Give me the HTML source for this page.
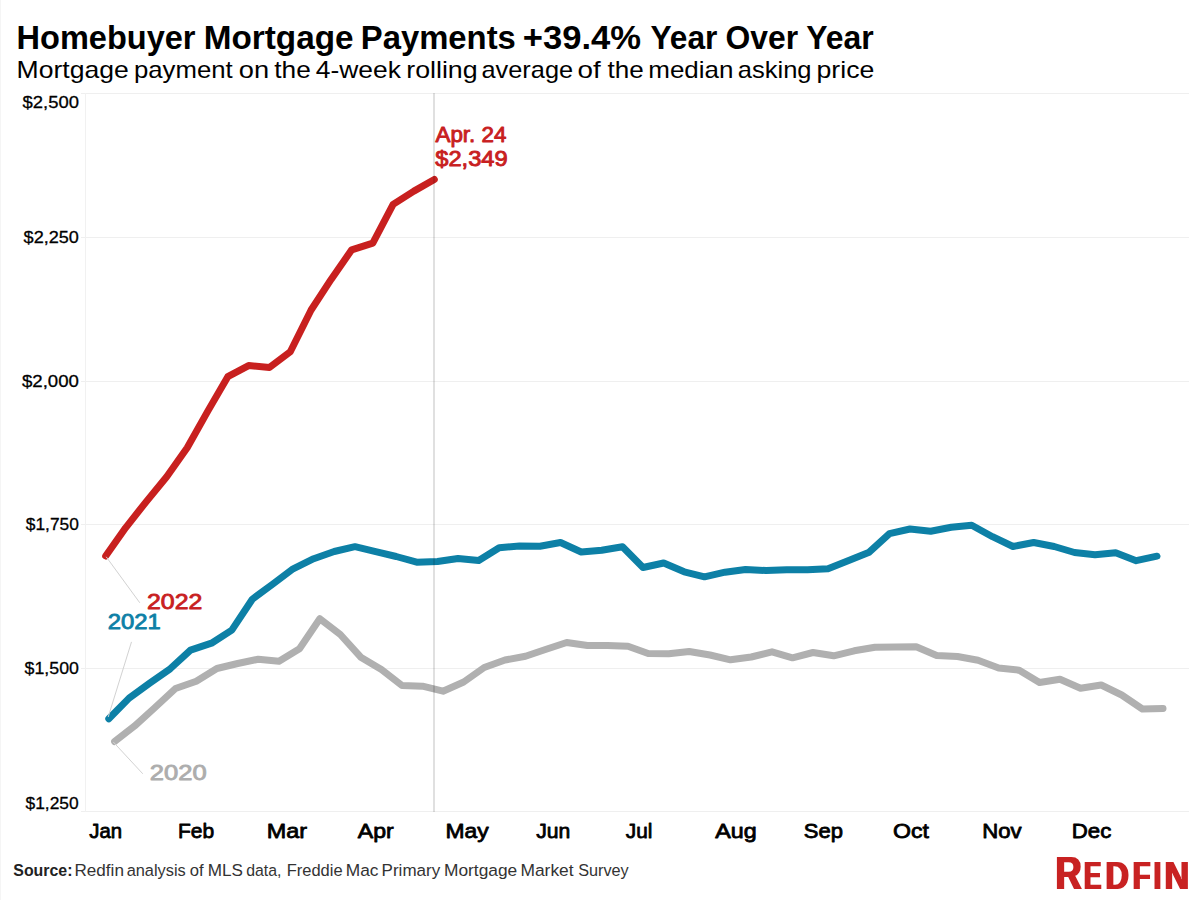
<!DOCTYPE html>
<html lang="en">
<head>
<meta charset="utf-8">
<title>Homebuyer Mortgage Payments</title>
<style>
html,body{margin:0;padding:0;background:#fff;}
body{width:1200px;height:900px;overflow:hidden;position:relative;font-family:"Liberation Sans",sans-serif;}
svg{position:absolute;left:0;top:0;display:block;}
text{font-family:"Liberation Sans",sans-serif;}
.title{font-size:32.5px;font-weight:700;fill:#000;}
.sub{font-size:24px;font-weight:400;fill:#000;}
.yl{font-size:16.7px;font-weight:400;fill:#000;stroke:#000;stroke-width:0.28px;}
.xl{font-size:21px;font-weight:400;fill:#000;stroke:#000;stroke-width:0.8px;stroke-linejoin:round;}
.src{font-size:16.3px;fill:#333;}
.srcb{font-size:16.3px;fill:#222;font-weight:700;}
.ann{font-size:21.6px;font-weight:400;fill:#c8201f;stroke:#c8201f;stroke-width:0.9px;stroke-linejoin:round;}
.yr{font-size:21.3px;font-weight:400;stroke-width:0.85px;stroke-linejoin:round;}
.logo{font-weight:700;fill:#c82021;}
</style>
</head>
<body>
<svg width="1200" height="900" viewBox="0 0 1200 900">
<defs><filter id="fx" x="-20%" y="-10%" width="140%" height="120%"><feMorphology operator="dilate" radius="1 0"/></filter></defs>
<rect x="0" y="0" width="1200" height="900" fill="#ffffff"/>
<rect x="0" y="0" width="1" height="900" fill="#f5f5f5"/>

<g fill="#efefef" shape-rendering="crispEdges">
<rect x="81" y="93" width="1108" height="1"/>
<rect x="81" y="237" width="1108" height="1"/>
<rect x="81" y="381" width="1108" height="1"/>
<rect x="81" y="524" width="1108" height="1"/>
<rect x="81" y="668" width="1108" height="1"/>
<rect x="81" y="811" width="1108" height="1"/>
<rect x="85" y="93" width="1" height="719" fill="#f1f1f1"/>
</g>
<polyline points="114.6,741.6 134.5,726.1 155.0,707.5 175.5,688.5 196.3,681.3 216.9,668.5 237.7,663.5 258.2,659.2 279.0,661.3 299.5,648.8 319.8,618.7 340.3,634.5 361.2,657.6 381.4,669.6 402.0,685.5 422.5,686.2 443.0,691.2 463.7,682.0 484.2,667.5 505.0,660.0 525.5,656.2 546.2,649.2 566.7,642.5 587.5,645.5 607.5,645.5 628.0,646.2 648.2,653.5 668.7,653.8 689.2,651.5 710.0,655.0 730.5,659.8 751.2,657.0 772.0,651.8 792.5,657.8 813.0,652.5 833.7,655.8 854.2,650.8 875.0,647.2 895.5,647.0 916.2,646.7 936.7,655.5 957.5,656.5 978.0,660.2 998.7,668.0 1019.2,670.2 1039.5,682.5 1060.0,679.2 1080.5,688.2 1101.2,685.0 1121.7,695.0 1142.4,709.0 1163.0,708.4" fill="none" stroke="#b0b0b0" stroke-width="7" stroke-linejoin="round" stroke-linecap="round"/>
<polyline points="108.8,718.7 129.1,698.1 149.7,683.2 170.2,668.8 190.5,650.1 211.5,643.2 231.8,630.1 252.3,599.2 272.9,584.0 293.1,568.8 313.7,558.7 334.2,551.5 355.0,546.7 375.7,551.7 396.2,556.5 416.7,562.2 437.5,561.5 458.0,558.5 478.7,560.5 499.2,547.7 519.5,546.0 540.0,546.2 560.5,542.5 581.2,552.0 601.7,550.2 622.5,546.7 643.0,567.5 663.7,563.0 684.2,571.8 704.5,576.8 725.0,572.2 745.5,569.5 766.2,570.5 786.7,569.8 807.5,569.8 828.0,568.8 848.7,560.5 869.2,552.2 889.5,533.7 910.0,529.0 930.7,531.2 951.2,527.2 971.7,525.2 992.5,536.7 1013.0,546.5 1033.7,542.5 1054.2,546.5 1074.5,552.5 1095.0,554.7 1115.7,552.7 1136.2,560.7 1157.0,556.2" fill="none" stroke="#0d80a6" stroke-width="7" stroke-linejoin="round" stroke-linecap="round"/>
<polyline points="105.7,556.0 125.6,527.8 146.1,501.8 166.7,476.7 187.2,447.8 207.8,411.1 227.8,376.7 248.6,365.6 269.4,367.5 290.3,351.7 311.1,310.0 331.1,279.4 351.7,249.8 372.8,243.1 393.1,204.4 413.9,191.1 434.3,179.5" fill="none" stroke="#c8201f" stroke-width="7" stroke-linejoin="round" stroke-linecap="round"/>
<rect x="433" y="93" width="2" height="719" fill="#000" fill-opacity="0.12" shape-rendering="crispEdges"/>
<g stroke="#d2d2d2" stroke-width="1" fill="none">
<line x1="106.2" y1="556.8" x2="139.8" y2="602.8"/>
<line x1="108.2" y1="717" x2="131.5" y2="641.9"/>
<line x1="113.3" y1="742" x2="142.8" y2="773.8"/>
</g>
<text class="title" y="48.7"><tspan x="16.5" textLength="179.05" lengthAdjust="spacingAndGlyphs">Homebuyer</tspan> <tspan x="203.75" textLength="149.83" lengthAdjust="spacingAndGlyphs">Mortgage</tspan> <tspan x="360.75" textLength="155.09" lengthAdjust="spacingAndGlyphs">Payments</tspan> <tspan x="522.75" textLength="118.27" lengthAdjust="spacingAndGlyphs">+39.4%</tspan> <tspan x="650.5" textLength="66.9" lengthAdjust="spacingAndGlyphs">Year</tspan> <tspan x="725.5" textLength="72.54" lengthAdjust="spacingAndGlyphs">Over</tspan> <tspan x="806.25" textLength="67.41" lengthAdjust="spacingAndGlyphs">Year</tspan></text>
<text class="sub" y="77.6"><tspan x="16.5" textLength="112.23" lengthAdjust="spacingAndGlyphs">Mortgage</tspan> <tspan x="134.0" textLength="98.68" lengthAdjust="spacingAndGlyphs">payment</tspan> <tspan x="238.75" textLength="30.28" lengthAdjust="spacingAndGlyphs">on</tspan> <tspan x="274.25" textLength="36.49" lengthAdjust="spacingAndGlyphs">the</tspan> <tspan x="315.75" textLength="85.18" lengthAdjust="spacingAndGlyphs">4-week</tspan> <tspan x="406.25" textLength="71.38" lengthAdjust="spacingAndGlyphs">rolling</tspan> <tspan x="481.5" textLength="91.59" lengthAdjust="spacingAndGlyphs">average</tspan> <tspan x="577.5" textLength="23.18" lengthAdjust="spacingAndGlyphs">of</tspan> <tspan x="607.5" textLength="36.23" lengthAdjust="spacingAndGlyphs">the</tspan> <tspan x="648.25" textLength="85.21" lengthAdjust="spacingAndGlyphs">median</tspan> <tspan x="737.75" textLength="73.79" lengthAdjust="spacingAndGlyphs">asking</tspan> <tspan x="816.5" textLength="57.8" lengthAdjust="spacingAndGlyphs">price</tspan></text>
<text class="src" y="875.8"><tspan class="srcb" x="13.3" textLength="59.13" lengthAdjust="spacingAndGlyphs">Source:</tspan> <tspan x="74.5" textLength="49.43" lengthAdjust="spacingAndGlyphs">Redfin</tspan> <tspan x="126.65" textLength="59.09" lengthAdjust="spacingAndGlyphs">analysis</tspan> <tspan x="189.85" textLength="13.87" lengthAdjust="spacingAndGlyphs">of</tspan> <tspan x="207.8" textLength="35.18" lengthAdjust="spacingAndGlyphs">MLS</tspan> <tspan x="246.25" textLength="35.18" lengthAdjust="spacingAndGlyphs">data,</tspan> <tspan x="286.65" textLength="55.93" lengthAdjust="spacingAndGlyphs">Freddie</tspan> <tspan x="345.8" textLength="32.72" lengthAdjust="spacingAndGlyphs">Mac</tspan> <tspan x="381.6" textLength="58.59" lengthAdjust="spacingAndGlyphs">Primary</tspan> <tspan x="444.0" textLength="73.22" lengthAdjust="spacingAndGlyphs">Mortgage</tspan> <tspan x="520.5" textLength="53.05" lengthAdjust="spacingAndGlyphs">Market</tspan> <tspan x="578.15" textLength="50.57" lengthAdjust="spacingAndGlyphs">Survey</tspan></text>
<g class="yaxis">
<text class="yl" x="22.5" y="107.7" textLength="56.44" lengthAdjust="spacingAndGlyphs">$2,500</text>
<text class="yl" x="23.6" y="242.7" textLength="55.33" lengthAdjust="spacingAndGlyphs">$2,250</text>
<text class="yl" x="21.9" y="386.8" textLength="57.05" lengthAdjust="spacingAndGlyphs">$2,000</text>
<text class="yl" x="25.8" y="529.8" textLength="53.11" lengthAdjust="spacingAndGlyphs">$1,750</text>
<text class="yl" x="24.6" y="673.8" textLength="54.32" lengthAdjust="spacingAndGlyphs">$1,500</text>
<text class="yl" x="25.5" y="808.75" textLength="53.2" lengthAdjust="spacingAndGlyphs">$1,250</text>
</g>
<g class="xaxis">
<text class="xl" x="89.25" y="838.4" textLength="32.83" lengthAdjust="spacingAndGlyphs">Jan</text>
<text class="xl" x="178.0" y="838.4" textLength="36.19" lengthAdjust="spacingAndGlyphs">Feb</text>
<text class="xl" x="266.7" y="838.4" textLength="40.36" lengthAdjust="spacingAndGlyphs">Mar</text>
<text class="xl" x="357.75" y="838.4" textLength="35.9" lengthAdjust="spacingAndGlyphs">Apr</text>
<text class="xl" x="445.5" y="838.4" textLength="43.26" lengthAdjust="spacingAndGlyphs">May</text>
<text class="xl" x="536.25" y="838.4" textLength="34.12" lengthAdjust="spacingAndGlyphs">Jun</text>
<text class="xl" x="625.75" y="838.4" textLength="26.59" lengthAdjust="spacingAndGlyphs">Jul</text>
<text class="xl" x="715.25" y="838.4" textLength="41.44" lengthAdjust="spacingAndGlyphs">Aug</text>
<text class="xl" x="803.75" y="838.4" textLength="39.16" lengthAdjust="spacingAndGlyphs">Sep</text>
<text class="xl" x="893.0" y="838.4" textLength="35.94" lengthAdjust="spacingAndGlyphs">Oct</text>
<text class="xl" x="982.3" y="838.4" textLength="39.36" lengthAdjust="spacingAndGlyphs">Nov</text>
<text class="xl" x="1071.8" y="838.4" textLength="39.59" lengthAdjust="spacingAndGlyphs">Dec</text>
</g>
<text class="ann"><tspan x="435.5" y="141.8" textLength="70.88" lengthAdjust="spacingAndGlyphs">Apr. 24</tspan> <tspan x="435.25" y="165.7" textLength="72.34" lengthAdjust="spacingAndGlyphs">$2,349</tspan></text>
<text class="yr" fill="#c8201f" stroke="#c8201f" x="147.05" y="608.8" textLength="55.31" lengthAdjust="spacingAndGlyphs">2022</text>
<text class="yr" fill="#0d80a6" stroke="#0d80a6" x="107.75" y="628.8" textLength="53.04" lengthAdjust="spacingAndGlyphs">2021</text>
<text class="yr" fill="#adadad" stroke="#adadad" x="149.75" y="779.7" textLength="56.85" lengthAdjust="spacingAndGlyphs">2020</text>
<text class="logo" y="888.9" filter="url(#fx)"><tspan font-size="46.5" x="1055.4" textLength="26.16" lengthAdjust="spacingAndGlyphs">R</tspan><tspan font-size="39.3" x="1083.9" textLength="17.29" lengthAdjust="spacingAndGlyphs">E</tspan><tspan font-size="39.3" x="1105.55" textLength="23.35" lengthAdjust="spacingAndGlyphs">D</tspan><tspan font-size="39.3" x="1132.8" textLength="17.65" lengthAdjust="spacingAndGlyphs">F</tspan><tspan font-size="39.3" x="1153.8" textLength="7.36" lengthAdjust="spacingAndGlyphs">I</tspan><tspan font-size="39.3" x="1164.55" textLength="24.68" lengthAdjust="spacingAndGlyphs">N</tspan></text>
</svg>
</body>
</html>
